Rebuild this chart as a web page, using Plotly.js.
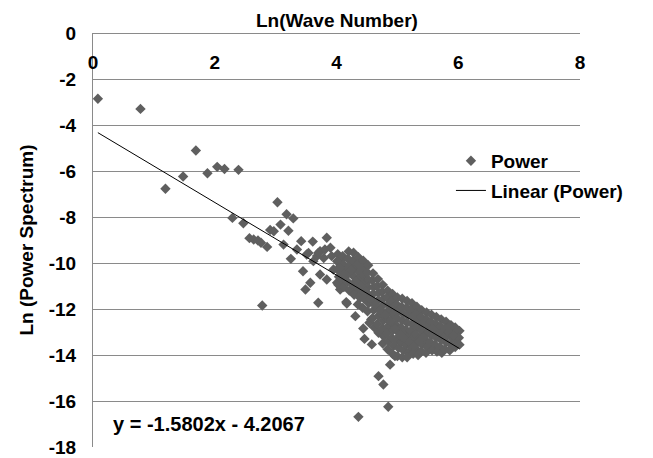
<!DOCTYPE html>
<html>
<head>
<meta charset="utf-8">
<script src="https://cdn.plot.ly/plotly-3.0.1.min.js"></script>
<style>html,body{margin:0;padding:0;background:#fff;}#chart{width:653px;height:458px;}</style>
</head>
<body>
<div id="chart"></div>
<script>
// Tick values and labels
var xTickVals = [0, 2, 4, 6, 8];
var xTickText = ['0', '2', '4', '6', '8'];
var yTickVals = [0, -2, -4, -6, -8, -10, -12, -14, -16, -18];
var yTickText = ['0', '-2', '-4', '-6', '-8', '-10', '-12', '-14', '-16', '-18'];

// Low wave numbers (sparse points)
var xLow = [0.08, 0.78, 1.19, 1.48, 1.69, 1.88, 2.04, 2.16, 2.29, 2.39, 2.47, 2.57, 2.64, 2.71, 2.76, 2.78, 2.86, 2.91, 2.97];
var yLow = [-2.86, -3.30, -6.77, -6.24, -5.11, -6.10, -5.82, -5.91, -8.04, -5.95, -8.27, -8.92, -8.98, -9.02, -9.12, -11.85, -9.30, -8.56, -8.62];

// Middle wave numbers
var xMid = [3.03, 3.08, 3.13, 3.18, 3.21, 3.25, 3.29, 3.35, 3.42, 3.45, 3.49, 3.51, 3.54, 3.57, 3.61, 3.62, 3.68, 3.70, 3.70, 3.73, 3.73, 3.79, 3.81, 3.84, 3.84, 3.90, 3.92, 3.95, 4.01, 4.01, 4.06, 4.06, 4.09, 4.11, 4.16, 4.17, 4.17, 4.31, 4.33, 4.39, 4.44, 4.46, 4.57, 4.58, 4.69, 4.69, 4.77, 4.85, 4.88, 4.96, 4.36];
var yMid = [-7.36, -8.33, -9.20, -7.88, -8.60, -9.82, -8.06, -9.41, -9.05, -10.36, -11.15, -9.63, -9.56, -10.86, -9.07, -9.92, -9.70, -9.56, -11.73, -10.50, -9.49, -9.78, -9.41, -8.90, -10.72, -9.34, -9.70, -10.28, -9.92, -10.86, -10.14, -11.15, -9.85, -10.72, -11.70, -10.28, -11.76, -12.31, -11.15, -11.51, -12.85, -13.30, -12.46, -13.54, -13.03, -14.92, -15.28, -16.25, -14.42, -14.05, -16.69];

// High wave numbers (dense cloud)
var xHigh = [
 4.02,4.03,4.02,4.04,4.03,
 4.10,4.11,4.09,4.10,4.12,
 4.20,4.19,4.21,4.20,4.18,4.21,
 4.28,4.27,4.29,4.28,4.26,4.29,
 4.36,4.35,4.37,4.36,4.34,4.37,4.35,
 4.44,4.43,4.45,4.44,4.42,4.45,4.43,
 4.52,4.51,4.53,4.52,4.50,4.53,4.51,4.54,
 4.60,4.59,4.61,4.60,4.58,4.61,4.59,4.62,
 4.68,4.67,4.69,4.68,4.66,4.69,4.67,4.70,
 4.76,4.75,4.77,4.76,4.74,4.77,4.75,4.78,4.76,
 4.84,4.83,4.85,4.84,4.82,4.85,4.83,4.86,4.84,
 4.92,4.91,4.93,4.92,4.90,4.93,4.91,4.94,4.92,
 5.00,4.99,5.01,5.00,4.98,5.01,4.99,5.02,5.00,
 5.08,5.07,5.09,5.08,5.06,5.09,5.07,5.10,5.08,
 5.16,5.15,5.17,5.16,5.14,5.17,5.15,5.18,5.16,
 5.24,5.23,5.25,5.24,5.22,5.25,5.23,5.26,
 5.32,5.31,5.33,5.32,5.30,5.33,5.31,5.34,
 5.40,5.39,5.41,5.40,5.38,5.41,5.39,
 5.48,5.47,5.49,5.48,5.46,5.49,5.47,
 5.56,5.55,5.57,5.56,5.54,5.57,
 5.64,5.63,5.65,5.64,5.62,5.65,
 5.72,5.71,5.73,5.72,5.70,5.73,
 5.80,5.79,5.81,5.80,5.78,
 5.88,5.87,5.89,5.88,5.86,
 5.95,5.94,5.96,5.95,
 6.02,6.01,6.02,
 4.06,4.14,4.24,4.32,4.40,4.48,4.56,4.64,4.72,4.80,4.88,4.96,5.04,5.12,5.20,5.28,5.36,5.44,5.52,5.60,5.68,5.76,5.84,5.92
];
var yHigh = [
 -9.62,-9.95,-10.30,-10.60,-10.95,
 -9.70,-10.05,-10.40,-10.75,-11.05,
 -9.50,-9.82,-10.15,-10.45,-10.80,-11.20,
 -9.55,-9.90,-10.25,-10.58,-10.95,-11.38,
 -9.75,-10.05,-10.40,-10.72,-11.05,-11.45,-11.80,
 -9.90,-10.22,-10.55,-10.85,-11.20,-11.55,-11.95,
 -10.10,-10.42,-10.75,-11.05,-11.40,-11.75,-12.10,-12.60,
 -10.45,-10.75,-11.05,-11.35,-11.70,-12.05,-12.40,-12.80,
 -10.70,-11.00,-11.30,-11.62,-11.95,-12.30,-12.65,-13.00,
 -10.95,-11.25,-11.55,-11.85,-12.20,-12.50,-12.85,-13.20,-13.50,
 -11.20,-11.50,-11.80,-12.10,-12.40,-12.75,-13.05,-13.40,-13.75,
 -11.35,-11.65,-11.95,-12.25,-12.55,-12.90,-13.25,-13.60,-13.95,
 -11.50,-11.80,-12.10,-12.40,-12.70,-13.00,-13.35,-13.70,-14.05,
 -11.55,-11.90,-12.20,-12.50,-12.80,-13.10,-13.45,-13.80,-14.10,
 -11.65,-11.95,-12.30,-12.60,-12.90,-13.20,-13.55,-13.90,-14.10,
 -11.75,-12.05,-12.35,-12.65,-12.95,-13.30,-13.65,-13.95,
 -11.90,-12.20,-12.50,-12.80,-13.10,-13.40,-13.75,-14.00,
 -12.05,-12.35,-12.65,-12.95,-13.25,-13.55,-13.85,
 -12.15,-12.45,-12.75,-13.05,-13.35,-13.65,-13.90,
 -12.25,-12.55,-12.85,-13.15,-13.45,-13.80,
 -12.35,-12.65,-12.95,-13.25,-13.55,-13.85,
 -12.45,-12.75,-13.05,-13.35,-13.65,-13.90,
 -12.55,-12.85,-13.15,-13.45,-13.75,
 -12.70,-12.95,-13.25,-13.55,-13.80,
 -12.80,-13.05,-13.35,-13.65,
 -12.95,-13.25,-13.55,
 -10.20,-10.55,-10.30,-10.80,-11.00,-11.25,-11.55,-11.80,-12.05,-12.25,-12.55,-12.85,-13.15,-13.30,-13.45,-13.60,-13.40,-13.20,-13.00,-12.90,-13.10,-13.25,-13.00,-13.15
];

// Linear trend line (from the chart's equation)
var slope = -1.5802;
var intercept = -4.2067;
var trendX = [0.08, 6.02];
var trendY = trendX.map(function (v) { return slope * v + intercept; });

var powerX = xLow.concat(xMid, xHigh);
var powerY = yLow.concat(yMid, yHigh);

var fontFam = 'Arial, "Liberation Sans", sans-serif';
var gridCol = '#8a8a8a';

var traces = [
  {
    x: powerX, y: powerY, type: 'scatter', mode: 'markers', name: 'Power',
    marker: { symbol: 'diamond', size: 8, color: '#5f5f5f' },
    legendgroup: 'a'
  },
  {
    x: trendX, y: trendY, type: 'scatter', mode: 'lines', name: 'Linear (Power)',
    line: { color: '#000000', width: 1 },
    legendgroup: 'b'
  }
];

var layout = {
  width: 653, height: 458,
  margin: { l: 93, r: 73, t: 33, b: 11 },
  paper_bgcolor: '#ffffff', plot_bgcolor: '#ffffff',
  font: { family: fontFam, color: '#000000' },
  showlegend: true,
  legend: {
    x: 0.735, y: 0.737, xanchor: 'left', yanchor: 'top',
    font: { family: fontFam, size: 19, weight: 'bold', color: '#000' },
    bgcolor: 'rgba(0,0,0,0)', tracegroupgap: 2
  },
  xaxis: {
    side: 'bottom', anchor: 'free', position: 1,
    range: [0, 8], tickmode: 'array', tickvals: xTickVals, ticktext: xTickText,
    showgrid: false, zeroline: false,
    showline: true, linecolor: gridCol, linewidth: 1,
    ticks: '', ticklabelstandoff: 12,
    tickfont: { family: fontFam, size: 19, weight: 'bold', color: '#000' }
  },
  yaxis: {
    range: [-18, 0], tickmode: 'array', tickvals: yTickVals, ticktext: yTickText,
    showgrid: true, gridcolor: gridCol, gridwidth: 1, zeroline: false,
    showline: true, linecolor: gridCol, linewidth: 1,
    ticks: '', ticklabelstandoff: 12,
    tickfont: { family: fontFam, size: 19, weight: 'bold', color: '#000' },
    title: { text: 'Ln (Power Spectrum)', font: { family: fontFam, size: 19, weight: 'bold', color: '#000' }, standoff: 10 }
  },
  annotations: [
    {
      x: 0.5, y: 1, xref: 'paper', yref: 'paper', xanchor: 'center', yanchor: 'bottom', yshift: 0,
      text: 'Ln(Wave Number)', showarrow: false,
      font: { family: fontFam, size: 19, weight: 'bold', color: '#000' }
    },
    {
      x: 0.3, y: -17.0, xref: 'x', yref: 'y', xanchor: 'left', yanchor: 'middle',
      text: 'y = -1.5802x - 4.2067', showarrow: false,
      font: { family: fontFam, size: 20, weight: 'bold', color: '#000' }
    }
  ]
};

Plotly.newPlot('chart', traces, layout, { displayModeBar: false, staticPlot: true });
</script>
</body>
</html>
